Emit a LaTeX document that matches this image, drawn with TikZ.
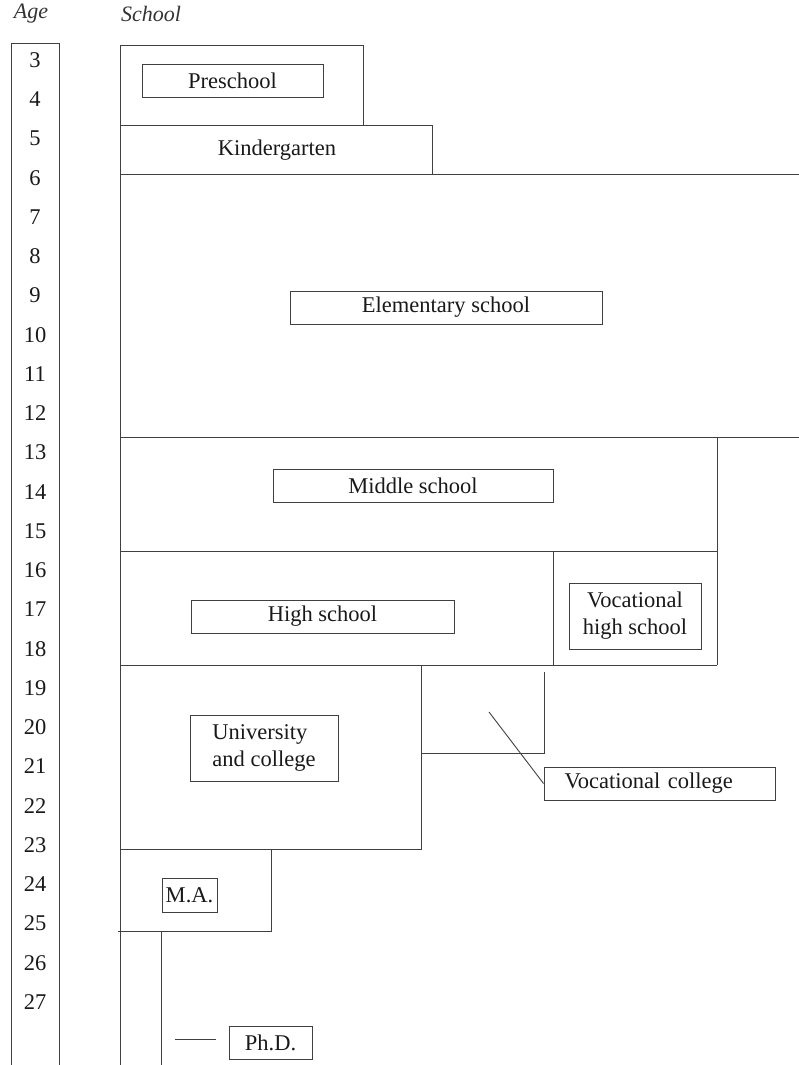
\documentclass[tikz,border=0pt]{standalone}
\usepackage{fontspec}
\setmainfont{Liberation Serif}
\begin{document}
\begin{tikzpicture}[x=1pt,y=-1pt,
  every node/.style={font=\fontsize{22.5}{27}\selectfont, text=black!90},
  hdr/.style={font=\fontsize{22}{26}\selectfont\itshape, text=black!80},
  lbl/.style={draw=black!75, line width=0.9pt, inner sep=0pt, minimum height=33pt},
  ln/.style={draw=black!75, line width=0.9pt}]
\useasboundingbox (0,0) rectangle (799,1065);
% headers
\node[hdr] (agehdr) at (31,14) {Age};
\node[hdr] (schoolhdr) at (151,14) {School};
% age column
\draw[ln] (11,1066) -- (11,43) -- (59,43) -- (59,1066);
\foreach \a [count=\i from 0] in {3,...,27}
  \node (age\a) at (35,{60+\i*39.25}) {\a};
% outer frames
\draw[ln] (120,1066) -- (120,45) -- (363,45) -- (363,125);
\draw[ln] (120,125) -- (432,125) -- (432,174);
\draw[ln] (120,174) -- (799,174);
\draw[ln] (120,437) -- (799,437);
\draw[ln] (717,437) -- (717,665);
\draw[ln] (120,551) -- (717,551);
\draw[ln] (553,551) -- (553,665);
\draw[ln] (120,665) -- (717,665);
\draw[ln] (421,665) -- (421,849) -- (120,849);
\draw[ln] (421,753) -- (544,753) -- (544,672);
\draw[ln] (271,849) -- (271,931) -- (118,931);
\draw[ln] (161,931) -- (161,1066);
% labels
\node[lbl, minimum width=181pt] (pre) at (232.5,80.5) {Preschool};
\node (kg) at (277,150) {Kindergarten};
\node[lbl, minimum width=312pt] (elem) at (446,307.5) {Elementary school};
\node[lbl, minimum width=280pt] (mid) at (413,485.5) {Middle school};
\node[lbl, minimum width=263pt] (high) at (322.5,616.5) {High school};
\node[lbl, minimum width=132pt, minimum height=66pt, align=center] (vhs) at (635,616) {Vocational\\high school};
\node[lbl, minimum width=148pt, minimum height=66pt, align=left] (univ) at (264,748) {University\\and college};
\node[lbl, minimum width=231pt, text width=190pt, align=left] (vc) at (659.5,783.5) {Vocational college};
\node[lbl, minimum width=55pt, minimum height=34pt] (ma) at (189.5,895) {M.A.};
\node[lbl, minimum width=83pt] (phd) at (270.5,1042.5) {Ph.D.};
% connectors
\coordinate (vcfree) at (489,712);
\draw[ln] (vcfree) -- (vc.west);
\coordinate (phdfree) at (175,1039);
\draw[ln] (phdfree) -- ([xshift=-13pt,yshift=3.5pt]phd.west);
\end{tikzpicture}
\end{document}
